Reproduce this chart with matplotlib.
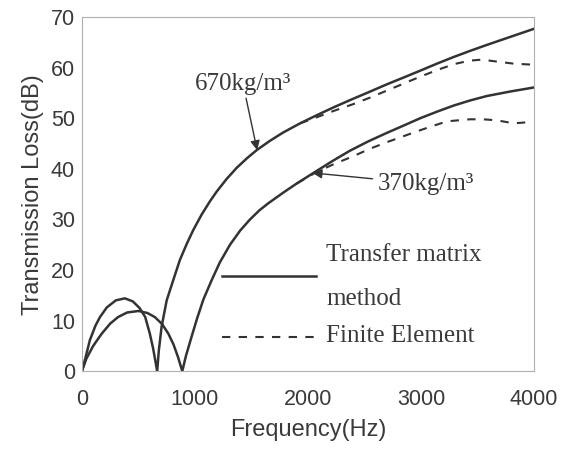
import numpy as np
import matplotlib
matplotlib.use("Agg")
import matplotlib.pyplot as plt

# Transfer matrix results (Hz, dB)
freq_670 = [0, 30, 70, 120, 160, 220, 300, 380, 450, 510, 560, 600, 630, 666,
            680, 705, 750, 808, 867, 930, 985, 1060, 1133, 1192, 1280, 1369,
            1460, 1546, 1660, 1781, 1930, 2077, 2220, 2372, 2530, 2696, 2850,
            2991, 3140, 3286, 3430, 3581, 3790, 4000]
tl_670 = [0, 2.5, 6.1, 9.0, 10.7, 12.6, 14.0, 14.4, 13.8, 12.5, 10.7, 7.5, 4.5, 0,
          4.0, 8.8, 14.0, 18.0, 22.0, 25.3, 27.9, 31.0, 33.6, 35.5, 38.0, 40.2,
          42.1, 43.7, 45.5, 47.2, 49.0, 50.6, 52.1, 53.6, 55.1, 56.7, 58.1,
          59.4, 60.8, 62.1, 63.3, 64.5, 66.1, 67.7]

freq_370 = [0, 40, 100, 175, 250, 320, 400, 500, 580, 645, 710, 765, 810, 850,
            888, 920, 970, 1020, 1075, 1148, 1220, 1310, 1400, 1487, 1570, 1649,
            1781, 1900, 2077, 2220, 2372, 2530, 2696, 2850, 2991, 3140, 3286,
            3430, 3581, 3790, 4000]
tl_370 = [0, 2.5, 5.0, 7.4, 9.4, 10.7, 11.6, 11.9, 11.5, 10.7, 9.3, 7.4, 5.3, 2.8,
          0, 3.0, 6.8, 10.5, 14.2, 18.0, 21.5, 25.0, 27.8, 30.0, 31.8, 33.2,
          35.3, 37.1, 39.6, 41.6, 43.6, 45.4, 47.1, 48.6, 50.0, 51.3, 52.5,
          53.5, 54.4, 55.3, 56.1]

# Finite element results (only shown where they leave the TMM curves)
freq_fe_670 = [1930, 2077, 2220, 2400, 2550, 2700, 2850, 3000, 3150, 3290,
               3430, 3540, 3640, 3820, 3990]
tl_fe_670 = [49.0, 50.2, 51.4, 52.8, 54.1, 55.5, 56.9, 58.3, 59.6, 60.7,
             61.4, 61.6, 61.3, 60.8, 60.6]

freq_fe_370 = [1900, 2077, 2235, 2400, 2550, 2700, 2850, 3000, 3120, 3230,
               3430, 3550, 3670, 3820, 3990]
tl_fe_370 = [37.1, 39.4, 41.0, 42.5, 44.0, 45.3, 46.5, 47.7, 48.6, 49.4,
             49.8, 49.8, 49.6, 49.0, 49.3]

line_col = "#333333"
text_col = "#3a3a3a"

fig = plt.figure(figsize=(5.85, 4.51), dpi=100)
ax = fig.add_axes([0.140, 0.177, 0.773, 0.785])

ax.plot(freq_670, tl_670, color=line_col, lw=1.8)
ax.plot(freq_370, tl_370, color=line_col, lw=1.8)
ax.plot(freq_fe_670, tl_fe_670, color=line_col, lw=1.5, ls=(0, (4, 4)))
ax.plot(freq_fe_370, tl_fe_370, color=line_col, lw=1.5, ls=(0, (4, 4)))

ax.set_xlim(0, 4000)
ax.set_ylim(0, 70)
ax.set_xticks([0, 1000, 2000, 3000, 4000])
ax.set_yticks(range(0, 71, 10))
ax.tick_params(axis="both", length=0, labelsize=15.5, labelcolor=text_col)
ax.tick_params(axis="x", pad=13)
ax.tick_params(axis="y", pad=5)
for lab in ax.get_xticklabels() + ax.get_yticklabels():
    lab.set_family("Liberation Sans")

for s in ax.spines.values():
    s.set_color("#b0b0b0")
    s.set_linestyle((0, (1, 1)))
    s.set_linewidth(0.8)

ax.set_xlabel("Frequency(Hz)", fontsize=17, family="Liberation Sans",
              color=text_col, labelpad=6)
ax.set_ylabel("Transmission Loss(dB)", fontsize=17, family="Liberation Sans",
              color=text_col, labelpad=5)

serif = "Liberation Serif"
ax.annotate("670kg/m³", xy=(1550, 43.7), xytext=(1000, 55.5),
            fontsize=18, family=serif, color=text_col,
            arrowprops=dict(arrowstyle="-|>", color=line_col, lw=1.0,
                            mutation_scale=14, shrinkA=0, shrinkB=0))
ax.annotate("370kg/m³", xy=(2040, 39.2), xytext=(2620, 37.0),
            fontsize=18, family=serif, color=text_col, va="center",
            arrowprops=dict(arrowstyle="-|>", color=line_col, lw=1.0,
                            mutation_scale=14, shrinkA=2, shrinkB=0))

# hand-placed legend as in the original
ax.plot([1240, 2070], [18.8, 18.8], color=line_col, lw=1.8)
ax.plot([1240, 2070], [6.7, 6.7], color=line_col, lw=1.5, ls=(0, (4, 4)))
ax.text(2160, 23.0, "Transfer matrix", fontsize=18, family=serif,
        color=text_col, va="center")
ax.text(2160, 14.2, "method", fontsize=18, family=serif,
        color=text_col, va="center")
ax.text(2160, 7.0, "Finite Element", fontsize=18, family=serif,
        color=text_col, va="center")

fig.savefig("out.png", dpi=100)
